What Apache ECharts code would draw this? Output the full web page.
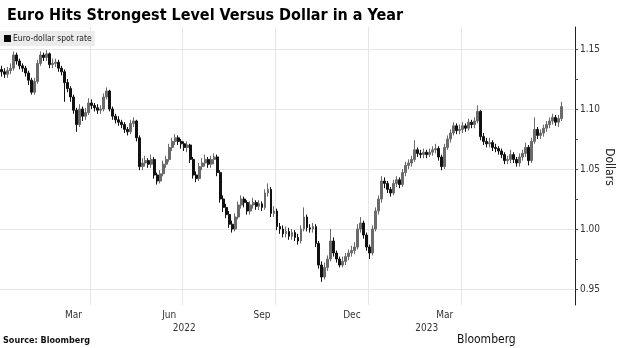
<!DOCTYPE html>
<html><head><meta charset="utf-8">
<script src="https://cdn.jsdelivr.net/npm/echarts@6/dist/echarts.min.js"></script>
<style>html,body{margin:0;padding:0;background:#fff}#c{width:620px;height:348px}</style>
</head><body><div id="c"></div>
<script>
// Euro-dollar spot rate, one candle per slot: [open, close, low, high]
const candleRows = [
[1.133,1.131,1.127,1.136],[1.131,1.129,1.126,1.134],[1.129,1.132,1.126,1.135],[1.132,1.134,1.129,1.138],
[1.134,1.145,1.132,1.148],[1.145,1.140,1.137,1.147],[1.140,1.136,1.133,1.142],[1.136,1.134,1.131,1.138],
[1.134,1.130,1.127,1.136],[1.130,1.124,1.120,1.132],[1.124,1.114,1.112,1.126],[1.114,1.123,1.112,1.126],
[1.123,1.138,1.121,1.141],[1.138,1.145,1.136,1.148],[1.145,1.143,1.140,1.147],[1.143,1.146,1.140,1.149],
[1.146,1.137,1.134,1.147],[1.137,1.138,1.134,1.142],[1.138,1.139,1.135,1.142],[1.139,1.134,1.131,1.141],
[1.134,1.131,1.128,1.136],[1.131,1.122,1.106,1.133],[1.122,1.117,1.114,1.125],[1.117,1.110,1.106,1.119],
[1.110,1.099,1.096,1.112],[1.099,1.087,1.081,1.101],[1.087,1.100,1.085,1.104],[1.100,1.094,1.090,1.102],
[1.094,1.097,1.091,1.101],[1.097,1.105,1.095,1.109],[1.105,1.103,1.100,1.108],[1.103,1.101,1.098,1.105],
[1.101,1.099,1.096,1.104],[1.099,1.100,1.096,1.103],[1.100,1.110,1.098,1.113],[1.110,1.115,1.108,1.118],
[1.115,1.100,1.098,1.116],[1.100,1.094,1.091,1.102],[1.094,1.091,1.088,1.096],[1.091,1.089,1.086,1.094],
[1.089,1.087,1.084,1.091],[1.087,1.083,1.080,1.089],[1.083,1.081,1.078,1.085],[1.081,1.088,1.079,1.091],
[1.088,1.090,1.085,1.093],[1.090,1.076,1.073,1.091],[1.076,1.052,1.049,1.078],[1.052,1.055,1.049,1.059],
[1.055,1.057,1.052,1.061],[1.057,1.054,1.051,1.059],[1.054,1.058,1.051,1.062],[1.058,1.045,1.042,1.060],
[1.045,1.040,1.037,1.047],[1.040,1.046,1.038,1.049],[1.046,1.054,1.044,1.057],[1.054,1.058,1.051,1.061],
[1.058,1.068,1.056,1.071],[1.068,1.073,1.065,1.076],[1.073,1.076,1.070,1.079],[1.076,1.073,1.070,1.078],
[1.073,1.071,1.067,1.075],[1.071,1.068,1.065,1.073],[1.068,1.070,1.064,1.073],[1.070,1.058,1.055,1.071],
[1.058,1.045,1.042,1.060],[1.045,1.042,1.039,1.048],[1.042,1.052,1.040,1.055],[1.052,1.055,1.049,1.059],
[1.055,1.058,1.052,1.062],[1.058,1.054,1.051,1.060],[1.054,1.058,1.051,1.061],[1.058,1.060,1.054,1.063],
[1.060,1.047,1.044,1.062],[1.047,1.025,1.022,1.049],[1.025,1.018,1.014,1.028],[1.018,1.012,1.009,1.021],
[1.012,1.004,1.001,1.015],[1.004,1.000,0.997,1.007],[1.000,1.010,0.998,1.013],[1.010,1.020,1.008,1.023],
[1.020,1.025,1.017,1.028],[1.025,1.022,1.018,1.027],[1.022,1.015,1.012,1.024],[1.015,1.020,1.012,1.023],
[1.020,1.022,1.017,1.026],[1.022,1.019,1.016,1.024],[1.019,1.021,1.016,1.024],[1.021,1.018,1.015,1.023],
[1.018,1.030,1.016,1.033],[1.030,1.033,1.027,1.038],[1.033,1.013,1.010,1.035],[1.013,1.015,1.010,1.019],
[1.015,1.002,0.999,1.017],[1.002,1.000,0.996,1.005],[1.000,0.996,0.993,1.003],[0.996,0.998,0.993,1.002],
[0.998,0.994,0.991,1.001],[0.994,0.997,0.991,1.000],[0.997,0.993,0.990,0.999],[0.993,0.990,0.987,0.996],
[0.990,1.000,0.988,1.003],[1.000,1.010,0.998,1.018],[1.010,1.001,0.998,1.012],[1.001,1.000,0.997,1.004],
[1.000,1.002,0.997,1.005],[1.002,0.988,0.985,1.004],[0.988,0.970,0.967,0.990],[0.970,0.960,0.956,0.973],
[0.960,0.968,0.958,0.972],[0.968,0.975,0.965,0.978],[0.975,0.990,0.973,1.000],[0.990,0.980,0.977,0.993],
[0.980,0.975,0.972,0.982],[0.975,0.970,0.968,0.977],[0.970,0.973,0.968,0.977],[0.973,0.977,0.970,0.980],
[0.977,0.980,0.974,0.983],[0.980,0.982,0.977,0.986],[0.982,0.985,0.979,0.989],[0.985,1.000,0.983,1.004],
[1.000,1.005,0.997,1.010],[1.005,0.995,0.992,1.007],[0.995,0.985,0.982,0.997],[0.985,0.980,0.975,0.987],
[0.980,1.000,0.978,1.003],[1.000,1.015,0.998,1.018],[1.015,1.025,1.012,1.028],[1.025,1.040,1.022,1.044],
[1.040,1.038,1.034,1.043],[1.038,1.033,1.030,1.040],[1.033,1.030,1.027,1.035],[1.030,1.038,1.028,1.041],
[1.038,1.041,1.035,1.044],[1.041,1.037,1.034,1.043],[1.037,1.047,1.035,1.050],[1.047,1.053,1.044,1.056],
[1.053,1.055,1.050,1.058],[1.055,1.058,1.052,1.061],[1.058,1.066,1.056,1.074],[1.066,1.063,1.060,1.068],
[1.063,1.062,1.059,1.066],[1.062,1.064,1.059,1.067],[1.064,1.062,1.059,1.066],[1.062,1.064,1.060,1.067],
[1.064,1.066,1.061,1.069],[1.066,1.067,1.063,1.071],[1.067,1.060,1.057,1.069],[1.060,1.052,1.049,1.062],
[1.052,1.068,1.050,1.071],[1.068,1.075,1.066,1.078],[1.075,1.080,1.072,1.083],[1.080,1.086,1.078,1.089],
[1.086,1.082,1.079,1.088],[1.082,1.083,1.079,1.087],[1.083,1.086,1.080,1.089],[1.086,1.084,1.081,1.088],
[1.084,1.089,1.082,1.092],[1.089,1.087,1.084,1.091],[1.087,1.090,1.084,1.093],[1.090,1.098,1.088,1.103],
[1.098,1.077,1.074,1.099],[1.077,1.073,1.070,1.080],[1.073,1.071,1.068,1.076],[1.071,1.072,1.068,1.076],
[1.072,1.068,1.065,1.074],[1.068,1.067,1.064,1.071],[1.067,1.065,1.062,1.069],[1.065,1.062,1.059,1.067],
[1.062,1.057,1.054,1.064],[1.057,1.058,1.054,1.061],[1.058,1.062,1.055,1.066],[1.062,1.058,1.055,1.064],
[1.058,1.055,1.052,1.060],[1.055,1.060,1.052,1.063],[1.060,1.063,1.057,1.066],[1.063,1.068,1.060,1.072],
[1.068,1.057,1.053,1.070],[1.057,1.073,1.055,1.076],[1.073,1.083,1.071,1.093],[1.083,1.078,1.075,1.085],
[1.078,1.080,1.075,1.083],[1.080,1.084,1.077,1.087],[1.084,1.087,1.081,1.090],[1.087,1.090,1.084,1.093],
[1.090,1.093,1.087,1.096],[1.093,1.089,1.086,1.095],[1.089,1.092,1.085,1.095],[1.092,1.102,1.090,1.106]
];
const slotCount = 192;
const monthLabels = ['Mar','Jun','Sep','Dec','Mar'];
const monthSlots = [24,56,87,117,148];
const yearLabels = ['2022','2023'];
const yearSlots = [61,142];
const quarterSlots = [30,61,92,123,154];
const yTickValues = [0.95,0.975,1.0,1.025,1.05,1.075,1.1,1.125,1.15];
const yLabelValues = [0.95,1.0,1.05,1.1,1.15];
const seriesName = 'Euro-dollar spot rate';
const yAxisTitle = 'Dollars';

const FONT = "'DejaVu Sans Condensed','Liberation Sans Narrow','Liberation Sans',sans-serif";
const slots = Array.from({length: slotCount}, (_, i) => String(i));
const monthMap = {}; monthSlots.forEach((s, k) => monthMap[s] = monthLabels[k]);
const yearMap = {}; yearSlots.forEach((s, k) => yearMap[s] = yearLabels[k]);

const chart = echarts.init(document.getElementById('c'), null, {renderer: 'canvas'});
chart.setOption({
  animation: false,
  backgroundColor: '#fff',
  title: {
    text: 'Euro Hits Strongest Level Versus Dollar in a Year',
    left: 2, top: 3,
    textStyle: {fontFamily: FONT, fontSize: 16, fontWeight: 'bold', color: '#000'}
  },
  legend: {
    left: 0, top: 31,
    data: [{name: seriesName, itemStyle: {color: '#000', borderColor: '#000'}}],
    icon: 'rect', itemWidth: 5, itemHeight: 5, itemGap: 4,
    padding: [3, 3, 3, 4],
    backgroundColor: '#ebebeb',
    textStyle: {fontFamily: FONT, fontSize: 8.5, color: '#222', padding: [0, 0, 0, -2]}
  },
  graphic: [
    {type: 'text', left: 3, top: 336, style: {text: 'Source: Bloomberg', font: "bold 9px " + FONT, fill: '#111'}},
    {type: 'text', left: 457, top: 334, style: {text: 'Bloomberg', font: "12px " + FONT, fill: '#111'}},
    {type: 'text', x: 609, y: 167, rotation: -Math.PI / 2,
      style: {text: yAxisTitle, font: "12px " + FONT, fill: '#222', align: 'center', verticalAlign: 'middle'}}
  ],
  grid: [
    {left: 0, right: 45, top: 27, bottom: 43, containLabel: false, outerBoundsMode: 'none'}
  ],
  xAxis: [
    {
      type: 'category', data: slots, boundaryGap: true,
      axisLine: {show: false}, axisTick: {show: false},
      splitLine: {show: true, interval: (i) => quarterSlots.includes(i), lineStyle: {color: '#e6e6e6', width: 1}},
      axisLabel: {
        interval: (i) => monthSlots.includes(i),
        formatter: (v, i) => monthMap[i] || '',
        fontFamily: FONT, fontSize: 10, color: '#333', margin: 5
      }
    },
    {
      type: 'category', data: slots, boundaryGap: true, position: 'bottom', offset: 13,
      axisLine: {show: false}, axisTick: {show: false}, splitLine: {show: false},
      axisLabel: {
        interval: (i) => yearSlots.includes(i),
        formatter: (v, i) => yearMap[i] || '',
        fontFamily: FONT, fontSize: 10, color: '#333', margin: 5
      }
    }
  ],
  yAxis: [{
    type: 'value', position: 'right',
    min: 0.9366667, max: 1.1683333, scale: true,
    axisLine: {show: true, lineStyle: {color: '#222', width: 1}},
    axisTick: {show: true, customValues: yTickValues, length: 3, lineStyle: {color: '#444'}},
    axisLabel: {show: true, customValues: yLabelValues, formatter: (v) => v.toFixed(2),
      fontFamily: FONT, fontSize: 10, color: '#333', margin: 5},
    splitLine: {show: false}
  }],
  series: [{
    name: seriesName,
    type: 'candlestick',
    xAxisIndex: 0, yAxisIndex: 0,
    data: candleRows,
    barWidth: 2.4,
    large: false,
    itemStyle: {color: '#6a6a6a', color0: '#111', borderColor: '#6a6a6a', borderColor0: '#111', borderWidth: 1},
    markLine: {
      silent: true, symbol: ['none', 'none'], z: 1,
      label: {show: false},
      lineStyle: {color: '#e6e6e6', type: 'solid', width: 1},
      data: yLabelValues.map(v => ({yAxis: v}))
    }
  }]
});
</script>
</body></html>
